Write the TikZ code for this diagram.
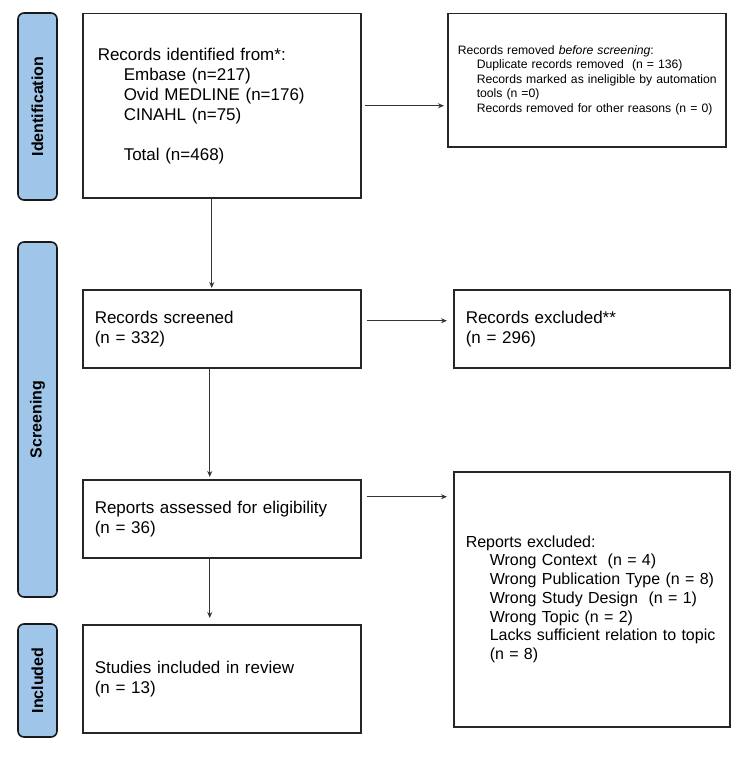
\documentclass[tikz,border=0pt]{standalone}
\usepackage{fontspec}
\setmainfont{Liberation Sans}
\usetikzlibrary{arrows.meta}
\definecolor{stageblue}{HTML}{9FC5E8}

\begin{document}
\begin{tikzpicture}[x=1pt,y=1pt,>={Stealth[length=6pt,width=5pt]},
  flow box/.style={draw=black!85,line width=1.5pt,align=left,anchor=north west,inner xsep=12pt,inner ysep=0pt,text width=254pt,minimum height=78pt,font=\fontsize{17}{20}\selectfont},
  stage bar/.style={draw=black!90,line width=1.6pt,fill=stageblue,rounded corners=6pt,rotate=90,minimum height=39pt,inner sep=0pt,font=\fontsize{16}{19}\selectfont\bfseries},
  flow/.style={->,line width=1pt,color=black!80,shorten <=3pt,shorten >=3pt}]
    \useasboundingbox (0,0) rectangle (750,-760);

    % stages
    \node[stage bar,minimum width=187pt] (idbar) at (37.5,-106.5) {Identification};
    \node[stage bar,minimum width=355pt] (scbar) at (37.5,-419.5) {Screening};
    \node[stage bar,minimum width=113pt] (inbar) at (37.5,-680.5) {Included};

    % boxes
    \node[flow box,text width=248pt,inner xsep=15pt,minimum height=184pt] (ident) at (82,-13) {Records identified from*:\\
        \hspace*{26pt}Embase (n=217)\\
        \hspace*{26pt}Ovid MEDLINE (n=176)\\
        \hspace*{26pt}CINAHL (n=75)\\[20pt]
        \hspace*{26pt}Total (n=468)};
    \node[flow box,text width=266pt,inner xsep=6pt,minimum height=133pt,font=\fontsize{12.2}{14.5}\selectfont] (removed) at (447,-13) {\hspace*{4pt}Records removed \textit{before screening}:\\
        \hspace*{23pt}Duplicate records removed\ \ (n = 136)\\
        \hspace*{23pt}\mbox{Records marked as ineligible by automation}\\
        \hspace*{23pt}tools (n =0)\\
        \hspace*{23pt}\mbox{Records removed for other reasons (n = 0)}};
    \node[flow box] (screened) at (82,-289) {Records screened\\(n = 332)};
    \node[flow box,text width=252pt] (excluded) at (453,-289) {Records excluded**\\(n = 296)};
    \node[flow box] (assessed) at (82,-479) {Reports assessed for eligibility\\(n = 36)};
    \node[flow box,text width=252pt,minimum height=255pt,font=\fontsize{16}{18.7}\selectfont] (repexcl) at (453,-471) {Reports excluded:\\
        \hspace*{24pt}Wrong Context\ \ (n = 4)\\
        \hspace*{24pt}Wrong Publication Type (n = 8)\\
        \hspace*{24pt}Wrong Study Design\ \ (n = 1)\\
        \hspace*{24pt}Wrong Topic (n = 2)\\
        \hspace*{24pt}Lacks sufficient relation to topic\\
        \hspace*{24pt}(n = 8)};
    \node[flow box,minimum height=108pt] (included) at (82,-624) {Studies included in review\\(n = 13)};

    \coordinate (d1) at ([xshift=-10pt]ident.south);
    \coordinate (d2) at ([xshift=-12pt]screened.south);
    \coordinate (d3) at ([xshift=-12pt]assessed.south);
    \coordinate (d4) at ([yshift=8pt]screened.east);
    \coordinate (d5) at ([yshift=22pt]assessed.east);

    \path[flow]
        (ident.east) edge (ident.east -| removed.west)
        (d1) edge[shorten <=0pt,shorten >=1pt] (d1 |- screened.north)
        (d2) edge[shorten <=0pt,shorten >=2pt] (d2 |- assessed.north)
        (d3) edge[shorten <=0pt,shorten >=6pt] (d3 |- included.north)
        (d4) edge[shorten <=5pt,shorten >=6pt] (d4 -| excluded.west)
        (d5) edge[shorten <=5pt,shorten >=6pt] (d5 -| repexcl.west)
    ;
\end{tikzpicture}
\end{document}
